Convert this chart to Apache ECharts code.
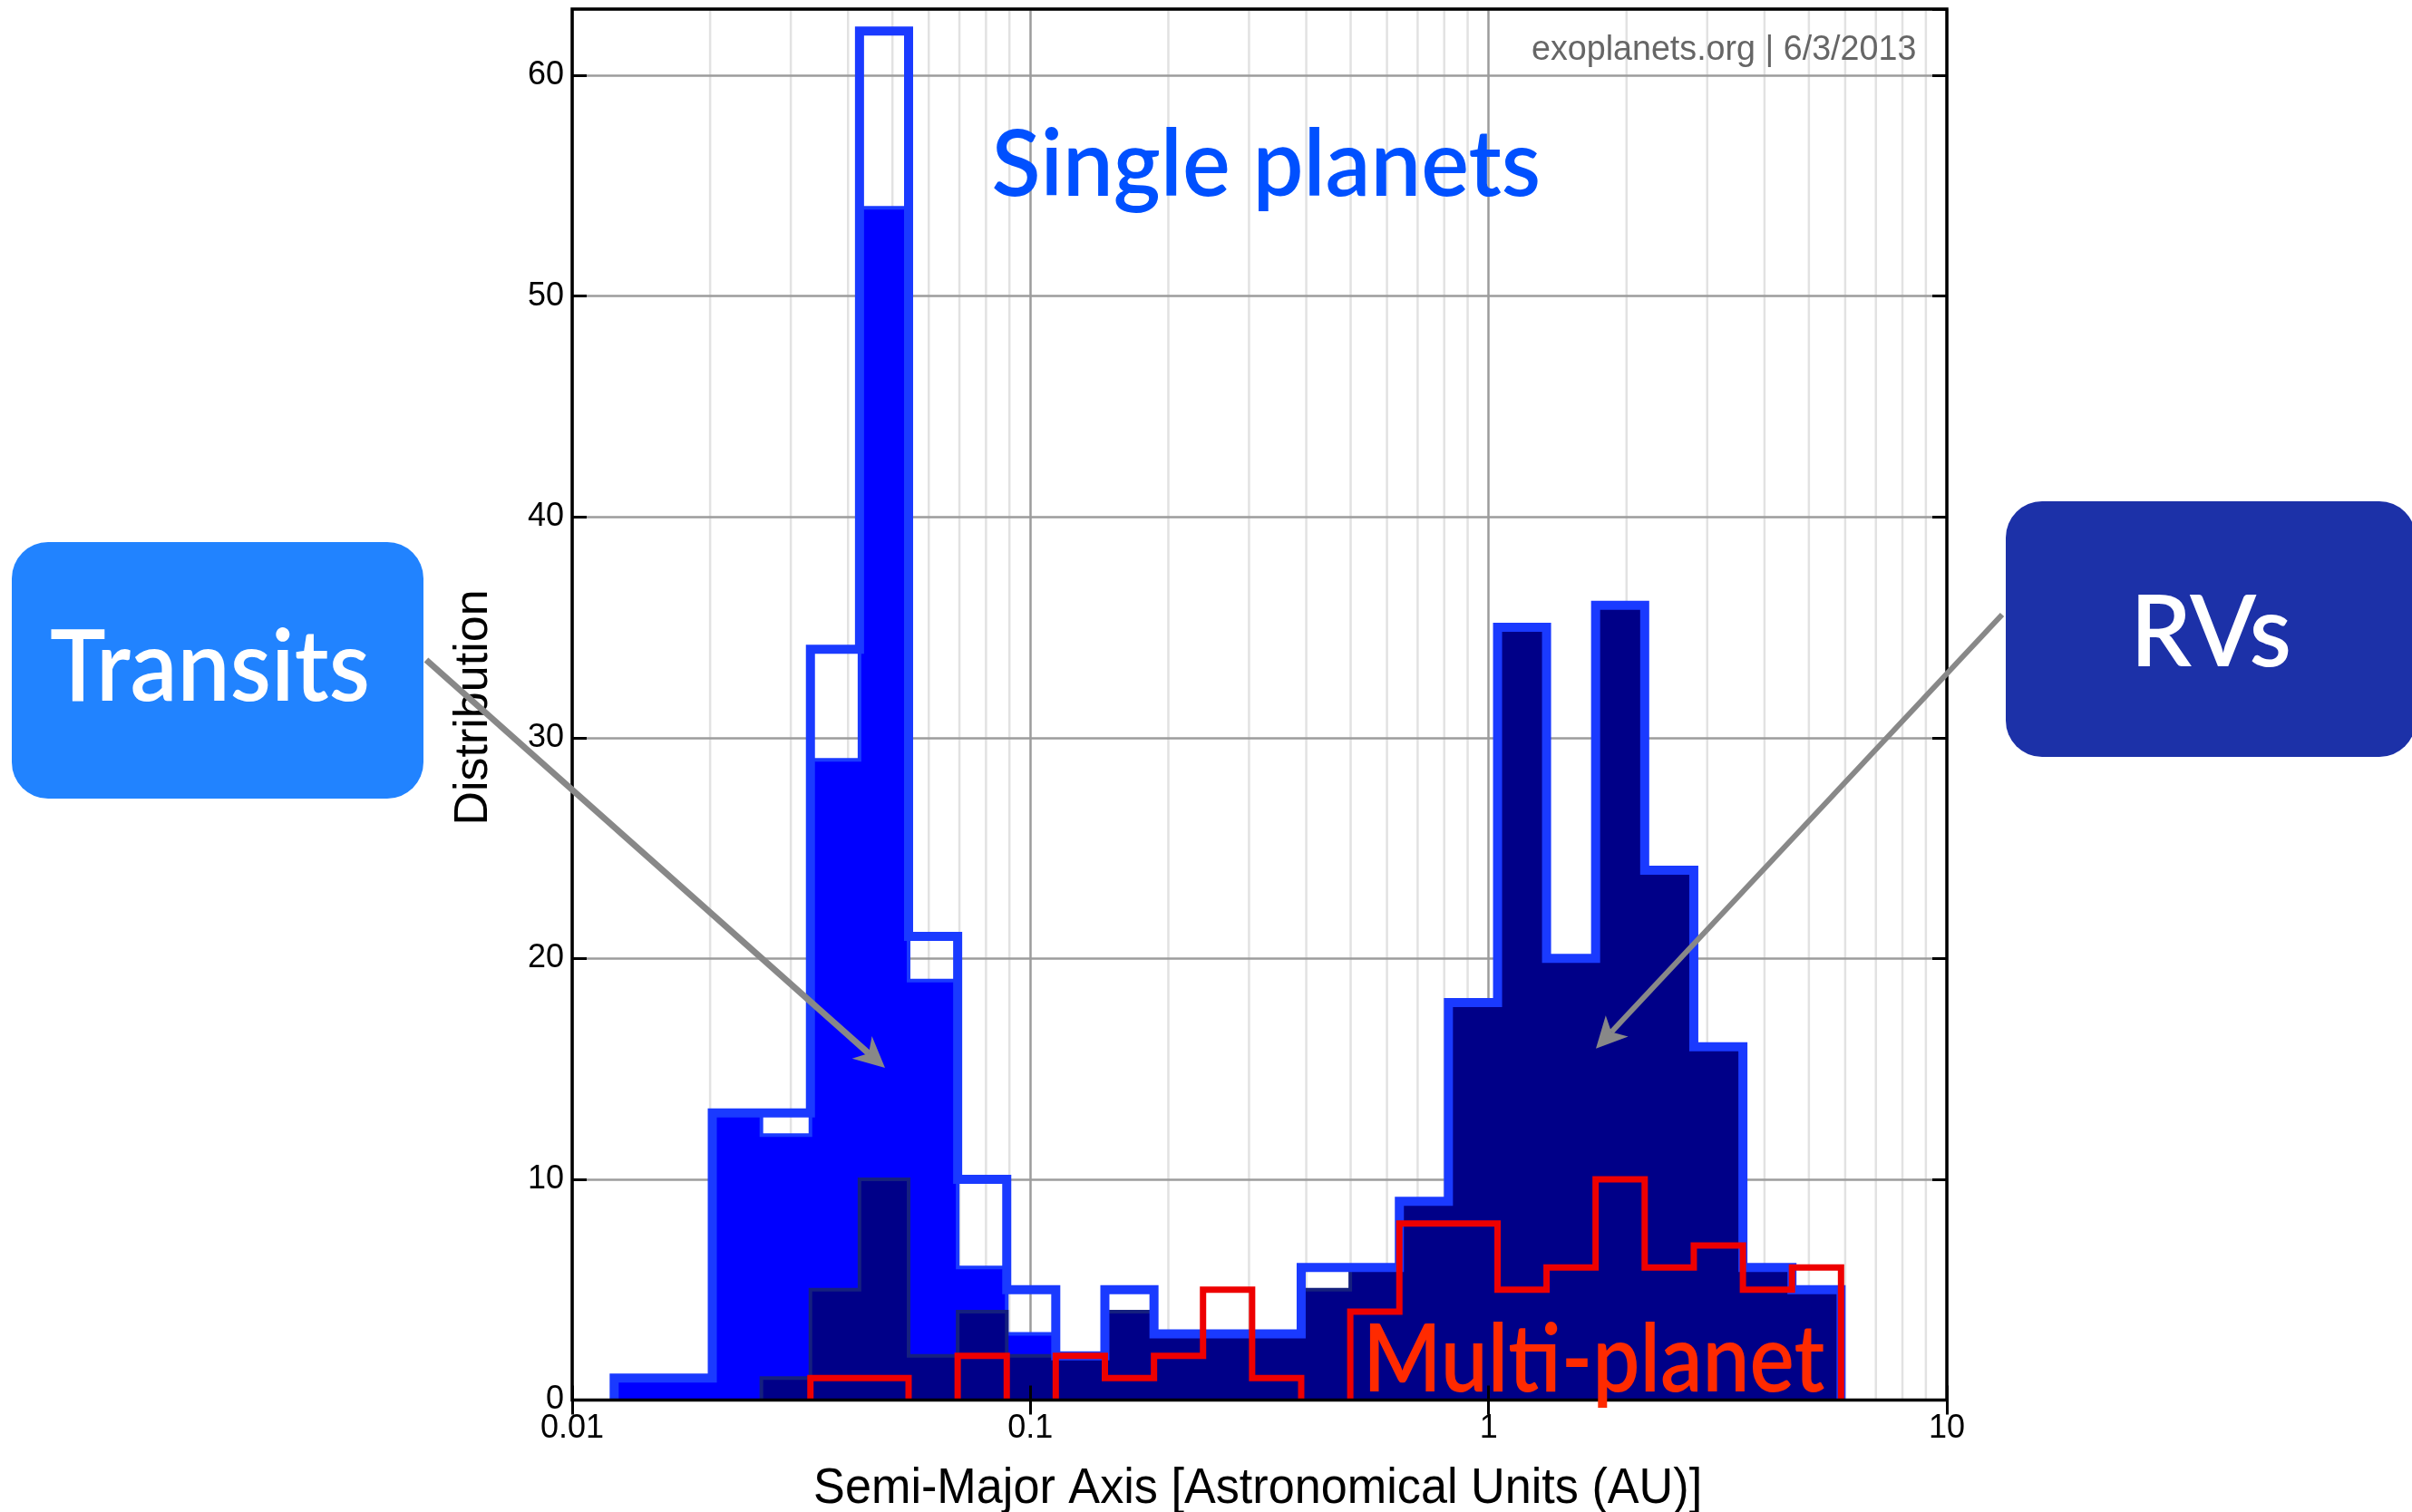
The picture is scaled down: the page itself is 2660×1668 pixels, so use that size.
<!DOCTYPE html>
<html>
<head>
<meta charset="utf-8">
<style>
  html, body { margin: 0; padding: 0; background: #ffffff; }
  #chart { width: 2660px; height: 1668px; }
</style>
<script src="https://cdn.jsdelivr.net/npm/echarts@6.0.0/dist/echarts.min.js"></script>
</head>
<body>
<div id="chart"></div>
<script>
// Histogram bin edges (semi-major axis, AU), log-spaced
const binEdgesAU = [0.01235, 0.01580, 0.02022, 0.02588, 0.03311, 0.04237, 0.05422, 0.06939,
  0.08880, 0.1136, 0.1454, 0.1861, 0.2381, 0.3047, 0.3899, 0.4990, 0.6386, 0.8171,
  1.046, 1.338, 1.712, 2.191, 2.804, 3.589, 4.592, 5.876];

// Counts per bin
const singlePlanets  = [1, 1, 13, 13, 34, 62, 21, 10, 5, 2, 5, 3, 3, 3, 6, 6, 9, 18, 35, 20, 36, 24, 16, 6, 5];
const transitPlanets = [1, 1, 13, 12, 29, 54, 19, 6, 3, 0, 0, 0, 0, 0, 0, 0, 0, 0, 0, 0, 0, 0, 0, 0, 0];
const rvPlanets      = [0, 0, 0, 1, 5, 10, 2, 4, 2, 2, 4, 3, 3, 3, 5, 6, 9, 18, 35, 20, 36, 24, 16, 6, 5];
const multiPlanets   = [0, 0, 0, 0, 1, 1, 0, 2, 0, 2, 1, 2, 5, 1, 0, 4, 8, 8, 5, 6, 10, 6, 7, 5, 6];

// Axis ranges and light minor grid positions
const xMin = 0.01, xMax = 10;
const yMin = 0, yMax = 63, yStep = 10;
const minorGridAU = [0.02, 0.03, 0.04, 0.05, 0.06, 0.07, 0.08, 0.09,
  0.2, 0.3, 0.4, 0.5, 0.6, 0.7, 0.8, 0.9,
  2, 3, 4, 5, 6, 7, 8, 9];

// Build a step outline from edges + counts; empty bins break the line
function stepPoints(edges, counts) {
  const pts = [];
  let open = false;
  for (let i = 0; i < counts.length; i++) {
    const c = counts[i];
    if (c > 0) {
      if (!open) { pts.push([edges[i], 0]); open = true; }
      pts.push([edges[i], c], [edges[i + 1], c]);
    } else if (open) {
      pts.push([edges[i], 0], ['-', '-']);
      open = false;
    }
  }
  if (open) pts.push([edges[counts.length], 0]);
  return pts;
}

// Text sized by cap height and stretched to a given ink width
const mctx = document.createElement('canvas').getContext('2d');
function fittedText(o) {
  mctx.textBaseline = 'middle';
  mctx.font = o.weight + ' 100px ' + o.family;
  const h = mctx.measureText('H');
  const capRatio = (h.actualBoundingBoxAscent + h.actualBoundingBoxDescent) / 100;
  const size = (o.baseline - o.capTop) / capRatio;
  const font = o.weight + ' ' + size.toFixed(2) + 'px ' + o.family;
  mctx.font = font;
  const m = mctx.measureText(o.text);
  const inkW = m.actualBoundingBoxLeft + m.actualBoundingBoxRight;
  const sx = (o.right - o.left) / inkW;
  const capAbove = mctx.measureText('H').actualBoundingBoxAscent;
  return {
    type: 'text', silent: true, z: o.z || 50,
    x: o.left + m.actualBoundingBoxLeft * sx,
    y: o.capTop + capAbove,
    scaleX: sx,
    style: { text: o.text, font: font, fill: o.color, align: 'left', verticalAlign: 'middle' }
  };
}

// Callout arrow: shaft plus notched head
function arrow(x0, y0, x1, y1, width, headLen, headHalf, notch, color) {
  const dx = x1 - x0, dy = y1 - y0;
  const L = Math.hypot(dx, dy);
  const ux = dx / L, uy = dy / L, px = -uy, py = ux;
  const bx = x1 - ux * headLen, by = y1 - uy * headLen;
  const nx = x1 - ux * (headLen - notch), ny = y1 - uy * (headLen - notch);
  return {
    type: 'group', silent: true, z: 100,
    children: [
      { type: 'line', z: 100, shape: { x1: x0, y1: y0, x2: nx, y2: ny },
        style: { stroke: color, lineWidth: width, lineCap: 'butt' } },
      { type: 'polygon', z: 101,
        shape: { points: [[x1, y1], [bx + px * headHalf, by + py * headHalf], [nx, ny], [bx - px * headHalf, by - py * headHalf]] },
        style: { fill: color } }
    ]
  };
}

const futura = "Lato";
const plain = "'Liberation Sans'";
const tickFont = { fontFamily: plain, fontSize: 36, color: '#000000' };

const baseAxisX = { type: 'log', logBase: 10, min: xMin, max: xMax, gridIndex: 0 };
const baseAxisY = { type: 'value', min: yMin, max: yMax, interval: yStep, gridIndex: 0 };
const tickStyle = { show: true, inside: true, length: 16, lineStyle: { color: '#000000', width: 3 } };

const chart = echarts.init(document.getElementById('chart'), null, { renderer: 'canvas' });

chart.setOption({
  animation: false,
  backgroundColor: '#ffffff',
  grid: {
    left: 631, top: 10, right: 513, bottom: 123.5,
    show: true, z: 10, borderColor: '#000000', borderWidth: 3.5, backgroundColor: 'rgba(0,0,0,0)'
  },
  xAxis: [
    Object.assign({}, baseAxisX, {
      position: 'bottom', z: 1,
      axisLine: { show: false }, axisTick: { show: false }, axisLabel: { show: false },
      splitLine: { show: true, lineStyle: { color: '#9c9c9c', width: 2.5 } }
    }),
    Object.assign({}, baseAxisX, {
      position: 'bottom', z: 12,
      axisLine: { show: false }, axisTick: tickStyle,
      axisLabel: Object.assign({ show: true, margin: 14, showMinLabel: true, showMaxLabel: true }, tickFont),
      splitLine: { show: false }
    }),
    Object.assign({}, baseAxisX, {
      position: 'top', z: 12,
      axisLine: { show: false }, axisTick: tickStyle, axisLabel: { show: false }, splitLine: { show: false }
    })
  ],
  yAxis: [
    Object.assign({}, baseAxisY, {
      position: 'left', z: 1,
      axisLine: { show: false }, axisTick: { show: false }, axisLabel: { show: false },
      splitLine: { show: true, lineStyle: { color: '#9c9c9c', width: 2.5 } }
    }),
    Object.assign({}, baseAxisY, {
      position: 'left', z: 12,
      axisLine: { show: false }, axisTick: tickStyle,
      axisLabel: Object.assign({ show: true, margin: 9, showMaxLabel: false }, tickFont),
      splitLine: { show: false }
    }),
    Object.assign({}, baseAxisY, {
      position: 'right', z: 12,
      axisLine: { show: false }, axisTick: tickStyle, axisLabel: { show: false }, splitLine: { show: false }
    })
  ],
  series: [
    {
      type: 'custom', name: 'minor grid', xAxisIndex: 0, yAxisIndex: 0, z: 0, silent: true,
      data: minorGridAU.map(v => [v, 0]),
      renderItem: function (params, api) {
        const v = api.value(0);
        const a = api.coord([v, yMin]);
        const b = api.coord([v, yMax]);
        return { type: 'line', shape: { x1: a[0], y1: a[1], x2: b[0], y2: b[1] },
                 style: { stroke: '#e2e2e2', lineWidth: 2.5 } };
      }
    },
    {
      type: 'line', name: 'Transits', xAxisIndex: 0, yAxisIndex: 0, z: 2, silent: true,
      data: stepPoints(binEdgesAU, transitPlanets), symbol: 'none', connectNulls: false,
      lineStyle: { color: '#1a3aff', width: 4, join: 'miter', cap: 'butt' },
      areaStyle: { color: '#0000ff', opacity: 1 }
    },
    {
      type: 'line', name: 'RVs', xAxisIndex: 0, yAxisIndex: 0, z: 3, silent: true,
      data: stepPoints(binEdgesAU, rvPlanets), symbol: 'none', connectNulls: false,
      lineStyle: { color: '#15207e', width: 4, join: 'miter', cap: 'butt' },
      areaStyle: { color: '#000088', opacity: 1 }
    },
    {
      type: 'line', name: 'Single planets', xAxisIndex: 0, yAxisIndex: 0, z: 4, silent: true,
      data: stepPoints(binEdgesAU, singlePlanets), symbol: 'none', connectNulls: false,
      lineStyle: { color: '#1a3aff', width: 10, join: 'miter', cap: 'butt' }
    },
    {
      type: 'line', name: 'Multi-planet', xAxisIndex: 0, yAxisIndex: 0, z: 5, silent: true,
      data: stepPoints(binEdgesAU, multiPlanets), symbol: 'none', connectNulls: false,
      lineStyle: { color: '#ee0000', width: 7, join: 'miter', cap: 'butt' }
    }
  ],
  graphic: [
    fittedText({ text: 'Semi-Major Axis [Astronomical Units (AU)]', family: plain, weight: 'normal',
      color: '#000000', capTop: 1620, baseline: 1658, left: 899, right: 1874 }),
    {
      type: 'text', silent: true, z: 50, x: 523, y: 780.5, rotation: Math.PI / 2,
      style: { text: 'Distribution', font: 'normal 52px ' + plain, fill: '#000000', align: 'center', verticalAlign: 'middle' }
    },
    fittedText({ text: 'exoplanets.org | 6/3/2013', family: plain, weight: 'normal',
      color: '#666666', capTop: 38.5, baseline: 65, left: 1690, right: 2112 }),
    fittedText({ text: 'Single planets', family: futura, weight: '600',
      color: '#0050ff', capTop: 142, baseline: 216, left: 1095.5, right: 1696 }),
    fittedText({ text: 'Multi-planet', family: futura, weight: '600',
      color: '#ff2a00', capTop: 1458.5, baseline: 1535, left: 1510, right: 2012 }),
    { type: 'rect', silent: true, z: 60, shape: { x: 13, y: 598, width: 454, height: 283, r: 40 },
      style: { fill: '#2183ff' } },
    fittedText({ text: 'Transits', family: futura, weight: '600', z: 61,
      color: '#ffffff', capTop: 693, baseline: 773.5, left: 56, right: 405 }),
    { type: 'rect', silent: true, z: 60, shape: { x: 2212, y: 553, width: 452, height: 282, r: 40 },
      style: { fill: '#1c31a8' } },
    fittedText({ text: 'RVs', family: futura, weight: '600', z: 61,
      color: '#ffffff', capTop: 654.7, baseline: 735.5, left: 2358, right: 2524 }),
    arrow(470, 728, 976, 1178, 7, 34, 16.5, 10, '#888888'),
    arrow(2208, 678, 1760, 1156.7, 6, 34, 17, 9, '#888888')
  ]
});
</script>
</body>
</html>
